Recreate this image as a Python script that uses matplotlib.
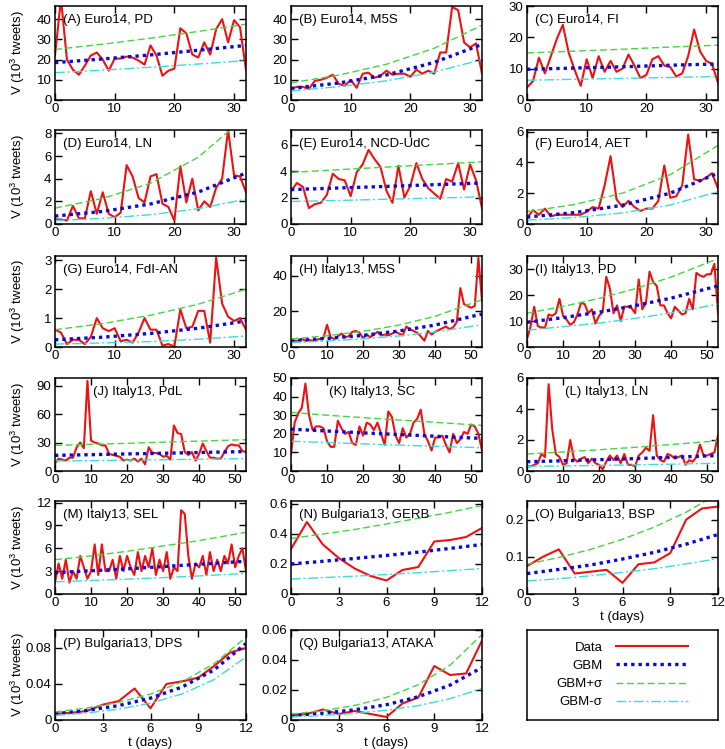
import matplotlib
matplotlib.use("Agg")
import matplotlib.pyplot as plt
from matplotlib.lines import Line2D

plt.rcParams["font.family"] = ["Liberation Sans", "DejaVu Sans"]
plt.rcParams["mathtext.default"] = "regular"

# days of each campaign
euro_days = list(range(33))
italy_days = list(range(54))
bulg_days = list(range(13))

euro_fit_days = [0, 8, 16, 24, 32]
italy_fit_days = [0, 10, 20, 30, 40, 53]
bulg_fit_days = [0, 2, 4, 6, 8, 10, 12]

# ---- Euro14 ----
data_A = [22, 50, 20, 15, 12.5, 17, 22, 23.5, 20, 14.5, 20.5, 20.5, 21.5, 21, 19.5, 17.5, 27,
          22, 12, 14.5, 15.5, 35.5, 33, 22.5, 21, 28.5, 22.5, 35, 40, 28.5, 39.5, 36, 15]
gbm_A = [18.5, 20.3, 22.3, 24.6, 27]
gbm_plus_A = [25, 27.6, 30.6, 33.9, 37.5]
gbm_minus_A = [13.5, 14.8, 16.2, 17.8, 19.5]

data_B = [5.5, 6.5, 6.5, 5.5, 9.5, 10, 11, 12.5, 8, 7, 10, 6, 13, 13.5, 11, 12, 14.5, 12.5,
          13, 13, 11.5, 15, 13, 14.5, 13, 23.5, 23.5, 46, 44.5, 28.5, 26, 28, 13]
gbm_B = [5.7, 8.4, 12.4, 18.6, 27.5]
gbm_plus_B = [8.5, 12.3, 17.7, 25.6, 37.0]
gbm_minus_B = [4.5, 6.6, 9.5, 13.8, 20.0]

data_C = [4, 6, 13.5, 8.5, 14, 19.5, 24, 15, 9.5, 4.5, 13, 7, 14, 9, 12.5, 9, 10, 14.5, 11, 7,
          8, 13, 14, 11, 10.5, 7.5, 8.5, 14, 22.5, 15.5, 12.5, 11.5, 5.5]
gbm_C = [9.8, 10.2, 10.6, 11.1, 11.5]
gbm_plus_C = [15, 15.6, 16.2, 16.9, 17.5]
gbm_minus_C = [6.3, 6.6, 6.9, 7.2, 7.5]

data_D = [0.4, 0.4, 0.3, 1.6, 0.5, 0.5, 2.9, 0.9, 2.8, 0.9, 0.6, 1.0, 5.2, 4.2, 2.3, 1.9, 4.2,
          4.4, 1.8, 1.5, 0.3, 5.1, 1.9, 4.0, 1.2, 2.0, 1.5, 3.2, 4.0, 8.3, 4.3, 4.2, 2.8]
gbm_D = [0.7, 1.11, 1.77, 2.82, 4.5]
gbm_plus_D = [1.4, 2.26, 3.6, 5.9, 9.5]
gbm_minus_D = [0.3, 0.5, 0.82, 1.35, 2.2]

data_E = [2.5, 3.1, 2.8, 1.2, 1.5, 1.6, 2.2, 3.8, 3.4, 3.3, 2.1, 3.9, 4.5, 5.6, 4.9, 4.3, 2.5,
          1.6, 4.4, 2.0, 2.9, 4.6, 3.4, 2.7, 2.3, 1.9, 3.4, 3.2, 4.6, 2.6, 4.5, 3.3, 1.2]
gbm_E = [2.6, 2.72, 2.84, 2.97, 3.1]
gbm_plus_E = [3.9, 4.1, 4.3, 4.5, 4.7]
gbm_minus_E = [1.7, 1.78, 1.87, 1.96, 2.05]

data_F = [0.4, 0.9, 0.6, 1.0, 0.5, 0.6, 0.6, 0.6, 0.6, 0.6, 0.8, 1.1, 1.0, 2.5, 4.4, 1.6, 1.1,
          1.5, 1.1, 0.85, 1.0, 1.0, 1.5, 3.8, 1.7, 1.8, 2.5, 5.8, 2.9, 2.8, 3.0, 3.3, 2.3]
gbm_F = [0.45, 0.74, 1.22, 2.0, 3.3]
gbm_plus_F = [0.8, 1.27, 2.0, 3.2, 5.1]
gbm_minus_F = [0.25, 0.42, 0.72, 1.23, 2.1]

data_G = [0.6, 0.5, 0.1, 0.25, 0.25, 0.1, 0.35, 1.0, 0.65, 0.55, 0.65, 0.2, 0.25, 0.15, 0.5,
          1.0, 0.6, 0.6, 0.05, 0.1, 0.02, 1.3, 0.65, 0.7, 1.25, 1.25, 0.15, 3.1, 1.5, 1.05,
          0.9, 1.0, 0.6]
gbm_G = [0.25, 0.34, 0.47, 0.65, 0.9]
gbm_plus_G = [0.6, 0.81, 1.1, 1.48, 2.0]
gbm_minus_G = [0.1, 0.14, 0.19, 0.27, 0.38]

# ---- Italy13 ----
data_H = [3.5, 3.5, 3.5, 4.5, 3.5, 4.0, 3.5, 4, 4.5, 5, 12.5, 5.5, 4.5, 6, 7.5, 5.5, 6, 8.5, 9,
          8, 5, 7, 5.5, 7, 8.5, 6.5, 7, 6.5, 7.5, 8.5, 7.5, 6.5, 11.5, 10, 9, 8, 6, 3.5, 9, 7,
          8.5, 9.5, 10.5, 11.5, 10, 11, 14, 33, 24, 23, 22, 23, 50, 26]
gbm_H = [3.5, 4.8, 6.5, 9.0, 12.3, 18.5]
gbm_plus_H = [4.5, 6.3, 8.8, 12.3, 17.2, 26.5]
gbm_minus_H = [2.5, 3.4, 4.6, 6.2, 8.4, 12.5]

data_I = [3, 8, 15.5, 8, 7.5, 7.5, 12.5, 12, 13, 18.5, 12, 10.5, 8.5, 9.5, 12.5, 17, 16.5, 13,
          14.5, 9, 12, 13.5, 27, 22.5, 13, 16, 10, 15.5, 15.5, 15, 13, 26, 14.5, 17, 29, 25,
          23.5, 16, 16, 13, 11, 15.5, 14, 12.5, 13, 18.5, 14.5, 28.5, 27.5, 27, 28, 28, 32, 13]
gbm_I = [9.5, 11.3, 13.4, 15.9, 18.8, 23.5]
gbm_plus_I = [13, 15.6, 18.7, 22.4, 26.9, 34]
gbm_minus_I = [6.5, 7.8, 9.2, 11.0, 13.1, 16.5]

data_J = [8, 13, 12, 11, 14, 14, 25, 30, 24, 95, 32, 30, 29, 27, 27, 18, 17, 16, 15, 11, 12,
          11, 13, 10, 13, 7, 25, 19, 19, 18, 15, 16, 12, 48, 40, 39, 20, 17, 20, 11, 18, 29,
          21, 14, 14, 13, 13, 20, 26, 28, 27, 27, 21, 20]
gbm_J = [16.5, 17.2, 18.0, 18.7, 19.5, 20.5]
gbm_plus_J = [27, 28.1, 29.2, 30.4, 31.5, 33]
gbm_minus_J = [10.5, 10.9, 11.4, 11.9, 12.4, 13]

data_K = [9, 26, 31, 34, 47, 30, 22, 24, 24, 23, 16, 13, 13, 27, 23, 20, 21, 15, 14, 24, 19,
          26, 25, 22, 26, 20, 14, 32, 29, 19, 15, 23, 18, 20, 26, 28, 33, 20, 16, 11, 18, 18,
          19, 14, 10, 20, 15, 17, 21, 20, 25, 24, 20, 11]
gbm_K = [22.5, 21.5, 20.5, 19.6, 18.7, 17.5]
gbm_plus_K = [31.5, 30.0, 28.7, 27.4, 26.2, 24.5]
gbm_minus_K = [16, 15.3, 14.6, 13.9, 13.3, 12.5]

data_L = [0.3, 0.3, 0.4, 0.5, 1.1, 0.9, 5.6, 2.7, 1.1, 0.9, 0.4, 0.5, 2.0, 0.8, 0.6, 0.8, 0.9,
          0.5, 0.8, 0.5, 0.4, 0.1, 0.6, 1.0, 0.7, 1.0, 0.5, 1.1, 0.4, 0.4, 0.3, 1.0, 1.2, 1.5,
          1.3, 3.6, 1.0, 0.7, 0.6, 1.1, 1.0, 0.8, 0.9, 1.0, 0.4, 0.7, 0.6, 0.9, 1.7, 1.0, 1.0,
          1.1, 1.2, 2.3]
gbm_L = [0.6, 0.66, 0.73, 0.8, 0.88, 1.0]
gbm_plus_L = [1.1, 1.23, 1.37, 1.53, 1.71, 1.95]
gbm_minus_L = [0.3, 0.33, 0.36, 0.40, 0.44, 0.5]

data_M = [1.5, 4, 2, 4.5, 1.5, 3, 2, 5, 3.5, 2, 3, 6.5, 2.5, 6.5, 3, 3, 4.5, 2, 5, 3, 5, 3.5,
          2.5, 5.5, 3, 5, 3.5, 6, 2.5, 4.5, 3, 5.5, 2, 3.5, 3, 11, 10.5, 5, 2, 4, 3.5, 5, 2.5,
          5.5, 3, 4.5, 3, 5, 4, 6.5, 3.5, 5, 6, 3]
gbm_M = [2.8, 3.05, 3.3, 3.6, 3.9, 4.3]
gbm_plus_M = [4.5, 5.0, 5.6, 6.3, 7.0, 8.1]
gbm_minus_M = [1.6, 1.77, 1.95, 2.15, 2.37, 2.7]

# ---- Bulgaria13 ----
data_N = [0.3, 0.48, 0.33, 0.24, 0.17, 0.12, 0.09, 0.16, 0.18, 0.35, 0.36, 0.38, 0.44]
gbm_N = [0.2, 0.218, 0.237, 0.257, 0.279, 0.304, 0.33]
gbm_plus_N = [0.37, 0.40, 0.43, 0.467, 0.505, 0.545, 0.59]
gbm_minus_N = [0.1, 0.109, 0.119, 0.130, 0.142, 0.156, 0.17]

data_O = [0.075, 0.1, 0.12, 0.055, 0.06, 0.065, 0.03, 0.08, 0.085, 0.11, 0.2, 0.23, 0.235]
gbm_O = [0.055, 0.066, 0.078, 0.094, 0.112, 0.134, 0.16]
gbm_plus_O = [0.08, 0.098, 0.12, 0.147, 0.180, 0.220, 0.27]
gbm_minus_O = [0.035, 0.041, 0.049, 0.058, 0.068, 0.081, 0.095]

data_P = [0.007, 0.008, 0.01, 0.017, 0.021, 0.035, 0.013, 0.04, 0.043, 0.047, 0.06, 0.075, 0.08]
gbm_P = [0.007, 0.0106, 0.016, 0.0243, 0.0368, 0.0557, 0.085]
gbm_plus_P = [0.009, 0.0133, 0.0196, 0.0288, 0.0425, 0.0626, 0.092]
gbm_minus_P = [0.005, 0.0078, 0.0121, 0.0187, 0.029, 0.045, 0.07]

data_Q = [0.003, 0.004, 0.007, 0.004, 0.006, 0.004, 0.002, 0.011, 0.015, 0.036, 0.03, 0.031, 0.053]
gbm_Q = [0.003, 0.0045, 0.0068, 0.0102, 0.0155, 0.0233, 0.035]
gbm_plus_Q = [0.004, 0.0062, 0.0097, 0.0151, 0.0235, 0.0366, 0.057]
gbm_minus_Q = [0.002, 0.003, 0.0044, 0.0065, 0.0096, 0.0142, 0.021]

euro_xticks = [0, 10, 20, 30]
italy_xticks = [0, 10, 20, 30, 40, 50]
bulg_xticks = [0, 3, 6, 9, 12]

# title, days, data, fit days, gbm, gbm+s, gbm-s, ylim top, yticks, xticks
panels = [
    ("(A) Euro14, PD", euro_days, data_A, euro_fit_days, gbm_A, gbm_plus_A, gbm_minus_A, 46.5, [0, 10, 20, 30, 40], euro_xticks),
    ("(B) Euro14, M5S", euro_days, data_B, euro_fit_days, gbm_B, gbm_plus_B, gbm_minus_B, 46.5, [0, 10, 20, 30, 40], euro_xticks),
    ("(C) Euro14, FI", euro_days, data_C, euro_fit_days, gbm_C, gbm_plus_C, gbm_minus_C, 30, [0, 10, 20, 30], euro_xticks),
    ("(D) Euro14, LN", euro_days, data_D, euro_fit_days, gbm_D, gbm_plus_D, gbm_minus_D, 8.3, [0, 2, 4, 6, 8], euro_xticks),
    ("(E) Euro14, NCD-UdC", euro_days, data_E, euro_fit_days, gbm_E, gbm_plus_E, gbm_minus_E, 7.1, [0, 2, 4, 6], euro_xticks),
    ("(F) Euro14, AET", euro_days, data_F, euro_fit_days, gbm_F, gbm_plus_F, gbm_minus_F, 6.1, [0, 2, 4, 6], euro_xticks),
    ("(G) Euro14, FdI-AN", euro_days, data_G, euro_fit_days, gbm_G, gbm_plus_G, gbm_minus_G, 3.15, [0, 1, 2, 3], euro_xticks),
    ("(H) Italy13, M5S", italy_days, data_H, italy_fit_days, gbm_H, gbm_plus_H, gbm_minus_H, 51, [0, 20, 40], italy_xticks),
    ("(I) Italy13, PD", italy_days, data_I, italy_fit_days, gbm_I, gbm_plus_I, gbm_minus_I, 35, [0, 10, 20, 30], italy_xticks),
    ("(J) Italy13, PdL", italy_days, data_J, italy_fit_days, gbm_J, gbm_plus_J, gbm_minus_J, 98, [0, 30, 60, 90], italy_xticks),
    ("(K) Italy13, SC", italy_days, data_K, italy_fit_days, gbm_K, gbm_plus_K, gbm_minus_K, 50, [0, 10, 20, 30, 40, 50], italy_xticks),
    ("(L) Italy13, LN", italy_days, data_L, italy_fit_days, gbm_L, gbm_plus_L, gbm_minus_L, 6, [0, 2, 4, 6], italy_xticks),
    ("(M) Italy13, SEL", italy_days, data_M, italy_fit_days, gbm_M, gbm_plus_M, gbm_minus_M, 12.2, [0, 3, 6, 9, 12], italy_xticks),
    ("(N) Bulgaria13, GERB", bulg_days, data_N, bulg_fit_days, gbm_N, gbm_plus_N, gbm_minus_N, 0.62, [0, 0.2, 0.4, 0.6], bulg_xticks),
    ("(O) Bulgaria13, BSP", bulg_days, data_O, bulg_fit_days, gbm_O, gbm_plus_O, gbm_minus_O, 0.25, [0, 0.1, 0.2], bulg_xticks),
    ("(P) Bulgaria13, DPS", bulg_days, data_P, bulg_fit_days, gbm_P, gbm_plus_P, gbm_minus_P, 0.1, [0, 0.04, 0.08], bulg_xticks),
    ("(Q) Bulgaria13, ATAKA", bulg_days, data_Q, bulg_fit_days, gbm_Q, gbm_plus_Q, gbm_minus_Q, 0.06, [0, 0.02, 0.04, 0.06], bulg_xticks),
]

RED = "#ee1111"
BLUE = "#0a0ad8"
GREEN = "#45d445"
CYAN = "#3cdcdc"
style_data = dict(color=RED, lw=1.5, ls="-")
style_gbm = dict(color=BLUE, lw=2.4, ls=(0, (1, 1.2)))
style_plus = dict(color=GREEN, lw=1.0, ls=(0, (5, 2.5)))
style_minus = dict(color=CYAN, lw=1.0, ls=(0, (7, 2, 1.5, 2)))

FS = 9.5
W, H = 725, 749
col_left = [55, 291, 527]
col_width = 191
rows = [(6, 100), (130, 224), (256, 347), (378, 471), (501, 594), (630, 720)]

fig = plt.figure(figsize=(W / 100, H / 100), dpi=100)


def make_axes(i):
    r, c = divmod(i, 3)
    top, bot = rows[r]
    return fig.add_axes([col_left[c] / W, 1 - bot / H, col_width / W, (bot - top) / H])


for i, (title, days, data, fdays, gbm, gp, gm, ytop, yticks, xticks) in enumerate(panels):
    ax = make_axes(i)
    ax.plot(days, data, **style_data)
    ax.plot(fdays, gbm, **style_gbm)
    ax.plot(fdays, gp, **style_plus)
    ax.plot(fdays, gm, **style_minus)
    ax.set_xlim(0, days[-1])
    ax.set_ylim(0, ytop)
    ax.set_xticks(xticks)
    ax.set_yticks(yticks)
    ax.set_yticklabels([f"{v:g}" for v in yticks])
    ax.tick_params(direction="in", top=True, right=True, length=5, width=1,
                   labelsize=FS, pad=2.5)
    for s in ax.spines.values():
        s.set_linewidth(1.1)
    xpos = 0.2 if title[1] in "JKL" else 0.04
    ax.text(xpos, 0.85, title, transform=ax.transAxes, fontsize=FS,
            ha="left", va="center")
    if i % 3 == 0:
        ax.set_ylabel("V (10$^3$ tweets)", fontsize=FS)
        ax.yaxis.set_label_coords(-0.145, 0.5)
    if title[1] in "OPQ":
        ax.set_xlabel("t (days)", fontsize=FS, labelpad=1)

# legend panel
lax = make_axes(17)
lax.set_xticks([])
lax.set_yticks([])
for s in lax.spines.values():
    s.set_linewidth(1.1)
handles = [Line2D([], [], **style_data), Line2D([], [], **style_gbm),
           Line2D([], [], **style_plus), Line2D([], [], **style_minus)]
labels = ["Data", "GBM", "GBM+σ", "GBM-σ"]
lax.legend(handles, labels, loc="center", frameon=False, markerfirst=False,
           handlelength=5.5, handletextpad=1.0, labelspacing=0.45, fontsize=FS)

fig.savefig("out.png", dpi=100)
